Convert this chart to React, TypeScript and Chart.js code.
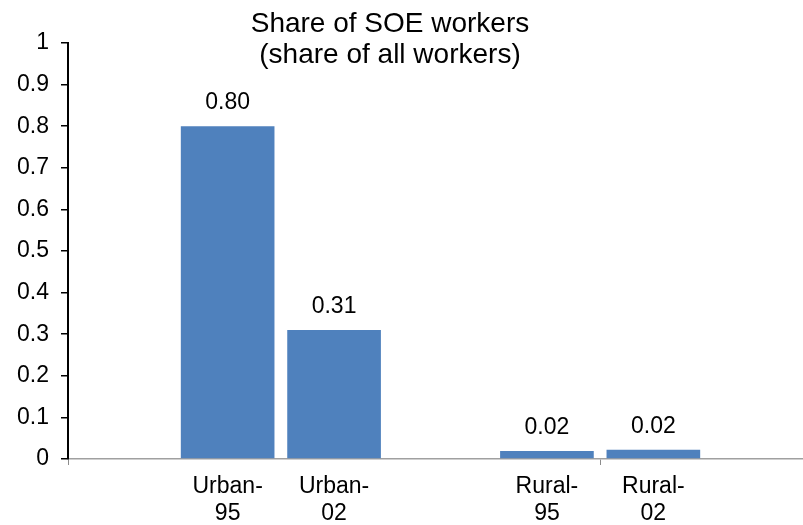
import { useEffect, useRef } from 'react';
import { Chart, registerables } from 'chart.js';

Chart.register(...registerables);

// ---- data ----
const categories = ['', 'Urban-95', 'Urban-02', '', 'Rural-95', 'Rural-02', ''];
const shares: (number | null)[] = [null, 0.8, 0.31, null, 0.019, 0.022, null];
const shareLabels = ['', '0.80', '0.31', '', '0.02', '0.02', ''];
const yTickLabels = ['0', '0.1', '0.2', '0.3', '0.4', '0.5', '0.6', '0.7', '0.8', '0.9', '1'];
const titleLines = ['Share of SOE workers', '(share of all workers)'];

const FONT = "'Liberation Sans', Arial, sans-serif";
const BAR_COLOR = '#4F81BD';

const valueLabelPlugin = {
  id: 'valueLabels',
  afterDatasetsDraw(chart: any) {
    const ctx = chart.ctx as CanvasRenderingContext2D;
    const meta = chart.getDatasetMeta(0);
    ctx.save();
    ctx.font = `23px ${FONT}`;
    ctx.fillStyle = '#000';
    ctx.textAlign = 'center';
    ctx.textBaseline = 'alphabetic';
    meta.data.forEach((bar: any, i: number) => {
      const text = shareLabels[i];
      if (!text || shares[i] == null) return;
      ctx.fillText(text, bar.x, bar.y - 17);
    });
    ctx.restore();
  },
};

export default function App() {
  const ref = useRef<HTMLCanvasElement>(null);

  useEffect(() => {
    const chart = new Chart(ref.current as HTMLCanvasElement, {
      type: 'bar',
      data: {
        labels: categories.map((c) => (c ? [c.split('-')[0] + '-', c.split('-')[1]] : '')),
        datasets: [
          {
            data: shares,
            backgroundColor: BAR_COLOR,
            categoryPercentage: 1,
            barPercentage: 0.88,
          },
        ],
      },
      options: {
        responsive: false,
        animation: false,
        layout: { padding: { top: 43, left: 0, right: 0, bottom: 0 } },
        plugins: {
          legend: { display: false },
          tooltip: { enabled: false },
          title: { display: false },
        },
        scales: {
          x: {
            grid: {
              offset: true,
              drawOnChartArea: false,
              drawTicks: true,
              tickLength: 6,
              lineWidth: 1,
              color: (ctx: any) =>
                ctx.index === 0 || ctx.index === 5 ? '#8c8c8c' : 'rgba(0,0,0,0)',
            },
            border: { color: '#a0a0a0', width: 1.5 },
            ticks: {
              color: '#000',
              font: { family: FONT, size: 23, lineHeight: 1.17 },
              padding: 8,
              maxRotation: 0,
              autoSkip: false,
            },
            afterFit: (s: any) => {
              s.height = 66;
            },
          },
          y: {
            min: 0,
            max: 1,
            ticks: {
              stepSize: 0.1,
              color: '#000',
              font: { family: FONT, size: 23 },
              padding: 12,
              callback: (_v: any, i: number) => yTickLabels[i],
            },
            grid: {
              drawOnChartArea: false,
              drawTicks: true,
              tickLength: 7,
              color: '#000',
              lineWidth: 1.5,
            },
            border: { color: '#000', width: 2 },
            afterFit: (s: any) => {
              s.width = 68;
            },
          },
        },
      },
      plugins: [valueLabelPlugin],
    } as any);
    return () => chart.destroy();
  }, []);

  return (
    <div
      style={{
        position: 'fixed',
        left: 0,
        top: 0,
        width: 803,
        height: 525,
        overflow: 'hidden',
        background: '#fff',
      }}
    >
      <canvas ref={ref} width={813} height={525} style={{ display: 'block' }} />
      <div
        style={{
          position: 'absolute',
          left: 0,
          top: 7,
          width: 780,
          textAlign: 'center',
          fontFamily: FONT,
          fontSize: 28,
          lineHeight: '31px',
          color: '#000',
        }}
      >
        {titleLines.map((l) => (
          <div key={l}>{l}</div>
        ))}
      </div>
    </div>
  );
}
